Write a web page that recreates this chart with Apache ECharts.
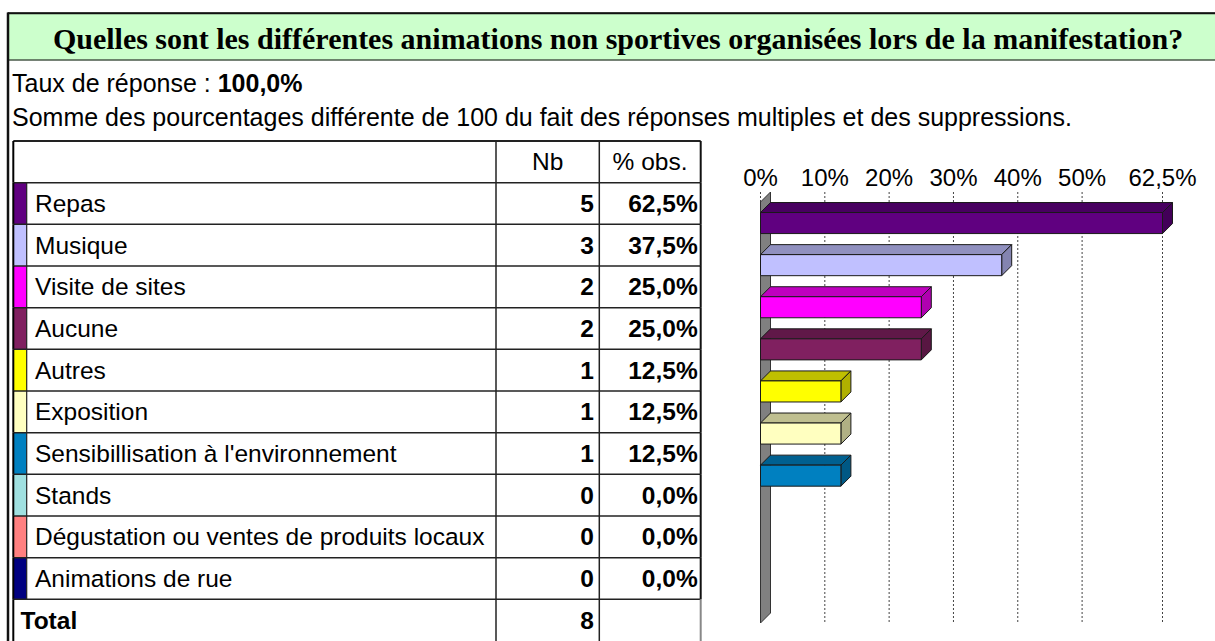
<!DOCTYPE html>
<html><head><meta charset="utf-8">
<script src="https://cdn.jsdelivr.net/npm/echarts@6/dist/echarts.min.js"></script>
<style>html,body{margin:0;padding:0;background:#fff}#c{width:1215px;height:641px}</style>
</head><body><div id="c"></div>
<script>
// ---- data ----
const titleText = "Quelles sont les différentes animations non sportives organisées lors de la manifestation?";
const responseRate = "100,0%";
const noteText = "Somme des pourcentages différente de 100 du fait des réponses multiples et des suppressions.";
const categories = ["Repas","Musique","Visite de sites","Aucune","Autres","Exposition","Sensibillisation à l'environnement","Stands","Dégustation ou ventes de produits locaux","Animations de rue"];
const counts = [5,3,2,2,1,1,1,0,0,0];
const percents = [62.5,37.5,25.0,25.0,12.5,12.5,12.5,0,0,0];
const totalCount = 8;
const headerNb = "Nb";
const headerPct = "% obs.";
const totalLabel = "Total";
const xTickValues = [0,10,20,30,40,50,62.5];
const colors = ["#600080","#C0C0FF","#FF00FF","#802060","#FFFF00","#FFFFC0","#0080C0","#A0E0E0","#FF8080","#000080"];

// ---- layout / style ----
const SANS = '"Liberation Sans", Arial, sans-serif';
const SERIF = '"Liberation Serif", "Times New Roman", serif';
const TABLE_FONT = 24.5;
const L = {
  tableLeft: 13.3, tableRight: 700.7, tableTop: 141, rowH: 42.1,
  swatchRight: 26.7, labelX: 35, nbLeft: 496, pctLeft: 599.3,
  chartLeft: 760.5, chartTop: 202, chartW: 402, chartH: 421, depth: 10
};
const fr = v => String(v).replace('.', ',') + '%';
const fr1 = v => v.toFixed(1).replace('.', ',') + '%';
function shade(hex, f) {
  const n = parseInt(hex.slice(1), 16);
  const r = Math.round(((n >> 16) & 255) * f), g = Math.round(((n >> 8) & 255) * f), b = Math.round((n & 255) * f);
  return 'rgb(' + r + ',' + g + ',' + b + ')';
}

const tableRows = ['__header'].concat(categories, ['__total']);
const chart = echarts.init(document.getElementById('c'), null, {renderer: 'svg'});

function line(x1, y1, x2, y2, w, c) {
  return {type: 'line', shape: {x1, y1, x2, y2}, style: {stroke: c || '#222', lineWidth: w || 1.5}};
}
function txt(text, x, y, align, weight, size) {
  return {type: 'text', style: {text, x, y, align, verticalAlign: 'middle', fontSize: size || TABLE_FONT,
    fontFamily: SANS, fontWeight: weight || 'normal', fill: '#000'}};
}

function renderTableRow(params, api) {
  const r = api.value(1);
  const cy = api.coord([0, r])[1];
  const h = api.size([0, 1])[1];
  const top = cy - h / 2, bot = cy + h / 2;
  const ch = [];
  const last = tableRows.length - 1;
  if (r === 0) {
    ch.push(txt(headerNb, (L.nbLeft + L.pctLeft) / 2, cy, 'center'));
    ch.push(txt(headerPct, (L.pctLeft + L.tableRight) / 2, cy, 'center'));
  } else if (r === last) {
    ch.push(txt(totalLabel, 20.5, cy, 'left', 'bold'));
    ch.push(txt(String(totalCount), L.pctLeft - 5.5, cy, 'right', 'bold'));
  } else {
    const i = r - 1;
    ch.push({type: 'rect', shape: {x: L.tableLeft, y: top, width: L.swatchRight - L.tableLeft, height: h},
      style: {fill: colors[i]}});
    ch.push(line(L.swatchRight, top, L.swatchRight, bot, 1.2));
    ch.push(txt(categories[i], L.labelX, cy, 'left'));
    ch.push(txt(String(counts[i]), L.pctLeft - 5.5, cy, 'right', 'bold'));
    ch.push(txt(fr1(percents[i]), L.tableRight - 3, cy, 'right', 'bold'));
  }
  ch.push(line(L.tableLeft, top, L.tableRight, top, r === 0 ? 2 : 1.5));
  ch.push(line(L.nbLeft, top, L.nbLeft, bot, 1.5));
  ch.push(line(L.pctLeft, top, L.pctLeft, bot, 1.5));
  ch.push(line(L.tableLeft, top, L.tableLeft, bot, 2, '#000'));
  ch.push(line(L.tableRight, top, L.tableRight, bot, 2, r === last ? '#888' : '#111'));
  return {type: 'group', children: ch};
}

function renderGridLine(params, api) {
  const cs = params.coordSys;
  const x = api.coord([api.value(0), 0])[0];
  return {type: 'line', z2: 1, shape: {x1: x, y1: cs.y - L.depth, x2: x, y2: cs.y + cs.height},
    style: {stroke: '#444', lineWidth: 1, lineDash: [2, 2]}};
}

function renderWall(params, api) {
  const cs = params.coordSys;
  const x = api.coord([0, 0])[0];
  const d = L.depth;
  return {type: 'polygon', shape: {points: [[x, cs.y], [x + d, cs.y - d], [x + d, cs.y + cs.height - d], [x, cs.y + cs.height]]},
    style: {fill: '#808080', stroke: '#333', lineWidth: 1}};
}

function renderBar(params, api) {
  const v = api.value(0), i = api.value(1);
  if (!(v > 0)) return null;
  const x0 = api.coord([0, i])[0];
  const p = api.coord([v, i]);
  const band = api.size([0, 1])[1];
  const h = band * 0.5;
  const yT = p[1] - h / 2, yB = p[1] + h / 2, x1 = p[0], d = L.depth;
  const c = colors[i];
  const st = {stroke: '#1a1a1a', lineWidth: 1, lineJoin: 'round'};
  return {type: 'group', children: [
    {type: 'polygon', shape: {points: [[x0, yT], [x0 + d, yT - d], [x1 + d, yT - d], [x1, yT]]}, style: Object.assign({fill: shade(c, 0.75)}, st)},
    {type: 'polygon', shape: {points: [[x1, yT], [x1 + d, yT - d], [x1 + d, yB - d], [x1, yB]]}, style: Object.assign({fill: shade(c, 0.69)}, st)},
    {type: 'rect', shape: {x: x0, y: yT, width: x1 - x0, height: h}, style: Object.assign({fill: c}, st)}
  ]};
}

const option = {
  backgroundColor: '#fff',
  animation: false,
  grid: [
    {left: L.tableLeft, top: L.tableTop, width: L.tableRight - L.tableLeft, height: L.rowH * tableRows.length, containLabel: false},
    {left: L.chartLeft, top: L.chartTop, width: L.chartW, height: L.chartH, containLabel: false}
  ],
  xAxis: [
    {gridIndex: 0, type: 'value', min: 0, max: 1, show: false},
    {gridIndex: 1, type: 'value', min: 0, max: 62.5, position: 'top',
      axisLine: {show: false}, axisTick: {show: false}, splitLine: {show: false},
      axisLabel: {customValues: xTickValues, formatter: v => fr(v), fontSize: 24, fontFamily: SANS, color: '#000', margin: 13, showMinLabel: true, showMaxLabel: true, hideOverlap: false}}
  ],
  yAxis: [
    {gridIndex: 0, type: 'category', data: tableRows, inverse: true, show: false},
    {gridIndex: 1, type: 'category', data: categories, inverse: true, show: false}
  ],
  series: [
    {type: 'custom', xAxisIndex: 0, yAxisIndex: 0, renderItem: renderTableRow,
      data: tableRows.map((_, r) => [0, r]), silent: true},
    {type: 'custom', xAxisIndex: 1, yAxisIndex: 1, renderItem: renderGridLine, z: 1,
      data: xTickValues.map(v => [v, 0]), silent: true},
    {type: 'custom', xAxisIndex: 1, yAxisIndex: 1, renderItem: renderWall, z: 2,
      data: [[0, 0]], silent: true},
    {type: 'custom', xAxisIndex: 1, yAxisIndex: 1, renderItem: renderBar, z: 3,
      data: percents.map((v, i) => [v, i]), silent: true}
  ],
  graphic: [
    {type: 'rect', shape: {x: 8, y: 13.3, width: 1240, height: 46.7}, style: {fill: '#CCFFCC', stroke: '#4a5a4a', lineWidth: 1.5}, z: 0},
    {type: 'line', shape: {x1: 8, y1: 13.3, x2: 1240, y2: 13.3}, style: {stroke: '#111', lineWidth: 2}},
    {type: 'line', shape: {x1: 8, y1: 12.5, x2: 8, y2: 645}, style: {stroke: '#111', lineWidth: 2.5}},
    {type: 'text', x: 618, y: 38, style: {text: titleText, align: 'center', verticalAlign: 'middle',
      fontSize: 30, fontFamily: SERIF, fontWeight: 'bold', fill: '#000'}},
    {type: 'text', x: 12, y: 83, style: {text: '{a|Taux de réponse : }{b|' + responseRate + '}', verticalAlign: 'middle',
      rich: {a: {fontSize: 25, fontFamily: SANS, fill: '#000'}, b: {fontSize: 25, fontFamily: SANS, fontWeight: 'bold', fill: '#000'}}}},
    {type: 'text', x: 12, y: 116.5, style: {text: noteText, verticalAlign: 'middle', fontSize: 25, fontFamily: SANS, fill: '#000'}}
  ]
};
chart.setOption(option);
</script></body></html>
